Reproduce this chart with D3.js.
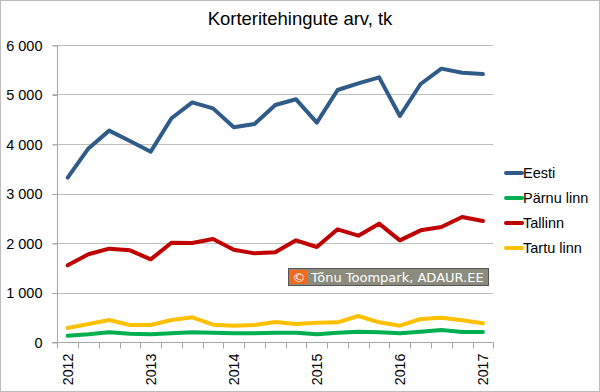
<!DOCTYPE html>
<html><head><meta charset="utf-8">
<script src="https://cdn.jsdelivr.net/npm/d3@7"></script>
<style>
html,body{margin:0;padding:0;background:#fff;}
svg{display:block;}
</style></head>
<body>
<svg id="c" width="600" height="392"></svg>
<script>
const quarters = ["2012Q1","2012Q2","2012Q3","2012Q4","2013Q1","2013Q2","2013Q3","2013Q4","2014Q1","2014Q2","2014Q3","2014Q4","2015Q1","2015Q2","2015Q3","2015Q4","2016Q1","2016Q2","2016Q3","2016Q4","2017Q1"];
const eesti   = [3320,3910,4270,4060,3845,4520,4840,4720,4337,4404,4788,4903,4431,5091,5226,5347,4566,5212,5522,5441,5414];
const parnu   = [128,155,195,168,155,175,195,188,175,175,188,188,155,188,208,195,175,208,242,202,202];
const tallinn = [1549,1772,1885,1852,1670,2006,2000,2081,1865,1791,1811,2054,1919,2276,2148,2391,2054,2256,2323,2525,2444];
const tartu   = [283,364,444,343,343,444,498,350,330,343,404,364,391,397,525,397,330,465,491,438,377];
const yTicks  = [0,1000,2000,3000,4000,5000,6000];
const seriesNames = ["Eesti","Pärnu linn","Tallinn","Tartu linn"];
const seriesColors = ["#2F5B88","#00B050","#C00000","#FFC000"];
const title = "Korteritehingute arv, tk";

const series = [eesti, parnu, tallinn, tartu];
const svg = d3.select("#c");
const font = "'Liberation Sans', Arial, sans-serif";

// outer border
svg.append("rect").attr("x",0.5).attr("y",0.5).attr("width",599).attr("height",391)
  .attr("fill","#fff").attr("stroke","#BDBDBD");

const L = 57.3, R = 493.3, T = 45, B = 342;
const x = d3.scaleBand().domain(quarters).range([L,R]).padding(0);
const y = d3.scaleLinear().domain([0,6000]).range([B,T]);

// gridlines
svg.append("g").selectAll("line").data(yTicks.filter(d=>d>0)).join("line")
  .attr("x1",L-5).attr("x2",R).attr("y1",d=>Math.round(y(d))+0.5).attr("y2",d=>Math.round(y(d))+0.5)
  .attr("stroke","#BFBFBF").attr("stroke-width",1);

// y axis
const fmt = d => d3.format(",")(d).replace(/,/g," ");
const ya = svg.append("g").attr("transform",`translate(${Math.round(L)+0.5},0)`)
  .call(d3.axisLeft(y).tickValues(yTicks).tickSize(5).tickFormat(fmt));
ya.select(".domain").attr("stroke","#A6A6A6").attr("d",`M-5,${Math.round(B)+0.5}H0V${T}`);
ya.selectAll(".tick line").attr("stroke","#A6A6A6").attr("transform","translate(0,0.5)");
ya.selectAll(".tick text").attr("font-family",font).attr("font-size",14.5).attr("fill","#000").attr("x",-15)
  .attr("dy","0.35em");

// x axis
const xa = svg.append("g").attr("transform",`translate(0,${Math.round(B)+0.5})`);
xa.append("line").attr("x1",L-5).attr("x2",R).attr("stroke","#A6A6A6");
const bounds = quarters.map(q=>x(q)).concat([R]);
xa.selectAll("line.t").data(bounds).join("line").attr("class","t")
  .attr("x1",d=>Math.round(d)+0.5).attr("x2",d=>Math.round(d)+0.5).attr("y1",0).attr("y2",6)
  .attr("stroke","#A6A6A6");
xa.selectAll("text").data(quarters.filter(q=>q.endsWith("Q1"))).join("text")
  .attr("transform",d=>`translate(${x(d)+x.bandwidth()/2+5.5},11) rotate(-90)`)
  .attr("text-anchor","end").attr("font-family",font).attr("font-size",14.3).attr("fill","#000")
  .text(d=>d.slice(0,4));

// lines
const line = d3.line().x((d,i)=>x(quarters[i])+x.bandwidth()/2).y(d=>y(d));
[3,1,2,0].forEach(k=>{
  svg.append("path").datum(series[k]).attr("d",line).attr("fill","none")
    .attr("stroke",seriesColors[k]).attr("stroke-width",4).attr("stroke-linejoin","round").attr("stroke-linecap","round");
});

// watermark
const wm = svg.append("g").attr("transform","translate(288,268)");
wm.append("rect").attr("x",0.5).attr("y",0.5).attr("width",200).attr("height",17)
  .attr("fill","#8C8C7E").attr("stroke","#555");
wm.append("rect").attr("x",2).attr("y",2).attr("width",18).attr("height",14).attr("fill","#F26B1D");
wm.append("text").attr("x",11).attr("y",14).attr("text-anchor","middle").attr("fill","#fff")
  .attr("font-family","'DejaVu Sans', sans-serif").attr("font-size",13).text("©");
wm.append("text").attr("x",23).attr("y",14).attr("fill","#fff")
  .attr("font-family","'DejaVu Sans', sans-serif").attr("font-size",13).text("Tõnu Toompark, ADAUR.EE");

// legend
const lg = svg.append("g");
const ly = [173,198,223,248];
seriesNames.forEach((n,i)=>{
  lg.append("line").attr("x1",506).attr("x2",522).attr("y1",ly[i]).attr("y2",ly[i])
    .attr("stroke",seriesColors[i]).attr("stroke-width",4).attr("stroke-linecap","round");
  lg.append("text").attr("x",523).attr("y",ly[i]).attr("dy","0.35em").attr("font-family",font)
    .attr("font-size",14.5).attr("fill","#000").text(n);
});

// title
svg.append("text").attr("x",300).attr("y",25).attr("text-anchor","middle").attr("font-family",font)
  .attr("font-size",18.5).attr("fill","#000").text(title);
</script>
</body></html>
